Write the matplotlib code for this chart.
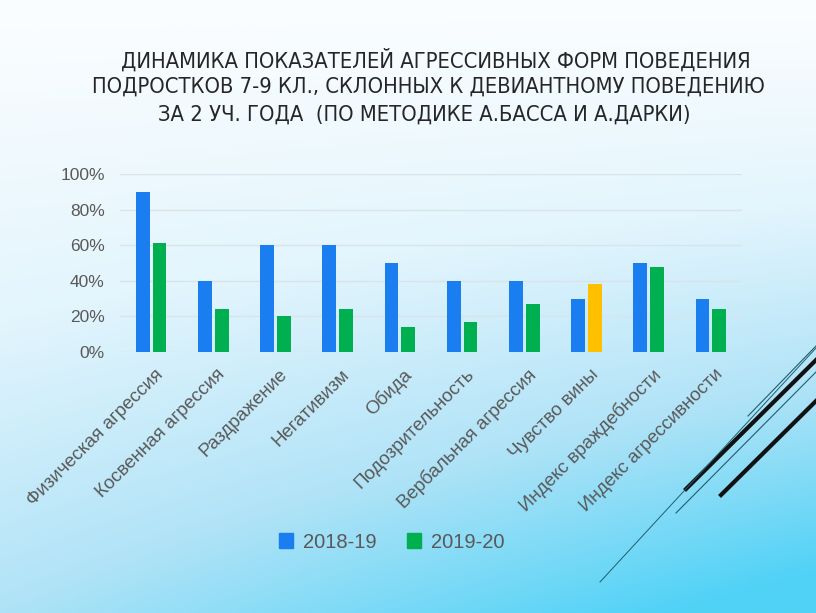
import matplotlib.pyplot as plt
import numpy as np
from matplotlib.colors import LinearSegmentedColormap
from matplotlib.lines import Line2D
from matplotlib.patches import Patch
from matplotlib.ticker import PercentFormatter

categories = ["Физическая агрессия", "Косвенная агрессия", "Раздражение",
              "Негативизм", "Обида", "Подозрительность", "Вербальная агрессия",
              "Чувство вины", "Индекс враждебности", "Индекс агрессивности"]
year_2018 = [90, 40, 60, 60, 50, 40, 40, 30, 50, 30]
year_2019 = [61, 24, 20, 24, 14, 17, 27, 38, 48, 24]
series_names = ["2018-19", "2019-20"]
title_lines = ["ДИНАМИКА ПОКАЗАТЕЛЕЙ АГРЕССИВНЫХ ФОРМ ПОВЕДЕНИЯ",
               "ПОДРОСТКОВ 7-9 КЛ., СКЛОННЫХ К ДЕВИАНТНОМУ ПОВЕДЕНИЮ",
               "ЗА 2 УЧ. ГОДА  (ПО МЕТОДИКЕ А.БАССА И А.ДАРКИ)"]

blue = "#1a7ef0"
green = "#00b050"
yellow = "#ffc000"
grey = "#595959"
plt.rcParams['font.family'] = ['Liberation Sans', 'DejaVu Sans']

fig = plt.figure(figsize=(8.16, 6.13), dpi=100)

# background gradient: white on top, cyan to the bottom right
bg = fig.add_axes([0, 0, 1, 1], zorder=-10)
yy, xx = np.mgrid[0:1:300j, 0:1:300j]
t = np.clip(0.7 * yy + 0.4 * xx * yy - 0.03, 0, 1)
cmap = LinearSegmentedColormap.from_list("bg", ["#fafdff", "#e3f5fd", "#b0e3f7", "#50d2f6"])
bg.imshow(t, cmap=cmap, extent=[0, 1, 0, 1], aspect="auto", origin="upper")
bg.axis("off")

# decorative lines in the bottom right corner (pixel coords -> figure fraction)
def px(x, y):
    return x / 816, 1 - y / 613

for (x0, y0, x1, y1, lw, c) in [(686, 489, 816, 360, 3.0, "#111111"),
                                 (721, 495, 816, 401, 3.0, "#111111"),
                                 (600, 582, 816, 348, 0.7, "#1d5f70"),
                                 (676, 513, 816, 372, 0.8, "#1d5f70"),
                                 (748, 416, 816, 346, 0.8, "#1d5f70")]:
    a, b = px(x0, y0)
    c2, d = px(x1, y1)
    fig.add_artist(Line2D([a, c2], [b, d], lw=lw, color=c, transform=fig.transFigure))

# title, condensed; size fitted so the second line is ~675 px wide
title_font = dict(family=["Liberation Sans Narrow", "DejaVu Sans"], fontstretch="condensed",
                  color="#262626")
probe = fig.text(0, 0, title_lines[1], fontsize=20, **title_font)
renderer = fig.canvas.get_renderer()
wpx = probe.get_window_extent(renderer).width
probe.remove()
tsize = min(20 * 675 / wpx, 18)
for i, (line, cx, cy) in enumerate(zip(title_lines, [436, 428, 424], [60, 87, 115])):
    fig.text(*px(cx, cy), line, ha="center", va="center", fontsize=tsize, **title_font)

ax = fig.add_axes([120 / 816, 1 - 352 / 613, 622 / 816, 178 / 613])
ax.patch.set_alpha(0)
x = np.arange(len(categories))
w = 0.22
ax.bar(x - 0.135, year_2018, w, color=blue, zorder=3)
colors_2019 = [yellow if c == "Чувство вины" else green for c in categories]
ax.bar(x + 0.135, year_2019, w, color=colors_2019, zorder=3)

ax.set_xlim(-0.5, len(categories) - 0.5)
ax.set_ylim(0, 100)
ax.set_yticks(range(0, 101, 20))
ax.yaxis.set_major_formatter(PercentFormatter(decimals=0))
ax.grid(axis="y", color="#d9e3ea", lw=1)
for s in ax.spines.values():
    s.set_visible(False)
ax.tick_params(axis="both", length=0, labelsize=12.5, labelcolor=grey)
ax.tick_params(axis="y", pad=11)
ax.tick_params(axis="x", pad=10)
ax.set_xticks(x + 0.05)
ax.set_xticklabels(categories, rotation=45, ha="right", rotation_mode="anchor", fontsize=13.5)

handles = [Patch(color=blue), Patch(color=green)]
fig.legend(handles, series_names, loc="center", bbox_to_anchor=(392 / 816, 1 - 542 / 613),
           ncol=2, frameon=False, fontsize=14.5, labelcolor=grey, handlelength=0.7,
           handleheight=0.7, columnspacing=1.5, handletextpad=0.5)

fig.savefig("out.png", dpi=100)
